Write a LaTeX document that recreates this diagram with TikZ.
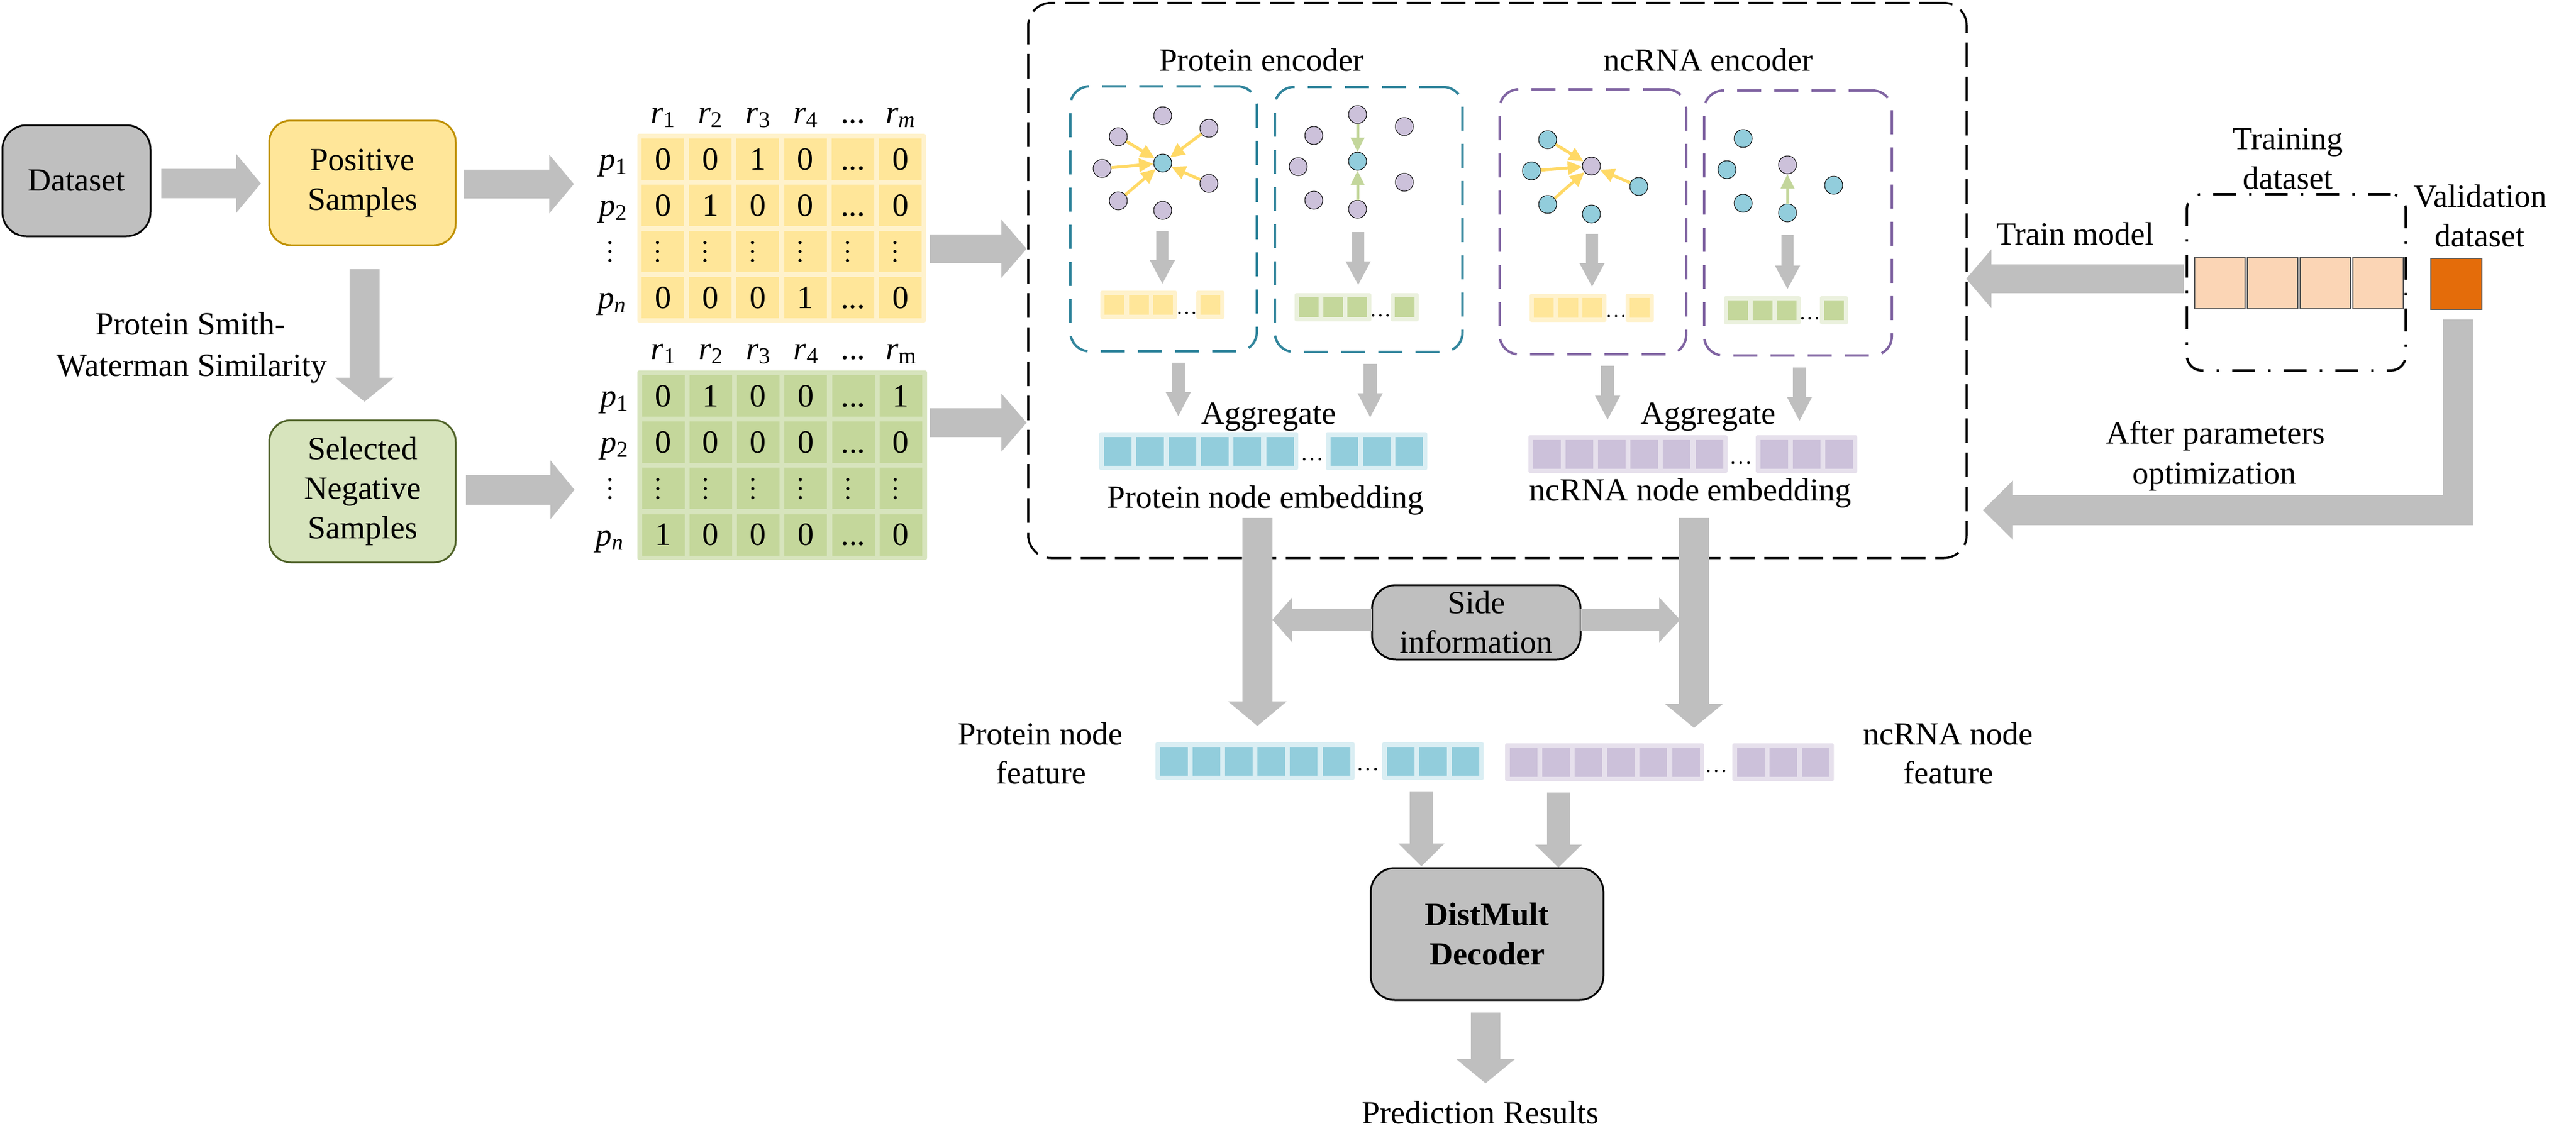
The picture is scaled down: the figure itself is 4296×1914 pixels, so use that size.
\documentclass[tikz,border=0pt]{standalone}
\usepackage{fontspec}
\setmainfont{Liberation Serif}
\usetikzlibrary{calc,arrows.meta}

\definecolor{agray}{HTML}{BFBFBF}
\definecolor{boxgray}{HTML}{BFBFBF}
\definecolor{posfill}{HTML}{FFE699}
\definecolor{posdraw}{HTML}{BF9000}
\definecolor{negfill}{HTML}{D7E4BD}
\definecolor{negdraw}{HTML}{4F6228}
\definecolor{ycell}{HTML}{FFE699}
\definecolor{yframe}{HTML}{FFF2CC}
\definecolor{gcell}{HTML}{C4D79B}
\definecolor{gframe}{HTML}{D7E4BD}
\definecolor{gframetwo}{HTML}{EBF1DE}
\definecolor{cteal}{HTML}{31859C}
\definecolor{cpurp}{HTML}{8064A2}
\definecolor{pnode}{HTML}{CCC1DA}
\definecolor{tnode}{HTML}{92CDDC}
\definecolor{yarrow}{HTML}{FFD966}
\definecolor{garrow}{HTML}{C3D69B}
\definecolor{bcell}{HTML}{92CDDC}
\definecolor{bframe}{HTML}{DAEEF3}
\definecolor{pcell}{HTML}{CCC1DA}
\definecolor{pframe}{HTML}{E6E0EC}
\definecolor{traincell}{HTML}{FBD5B5}
\definecolor{valcell}{HTML}{E46C0A}
\definecolor{celledge}{HTML}{595959}

% fat block arrow: start, end, shaft half width, head half width, head length
\newcommand{\fatarrow}[5]{%
  \coordinate (fah) at ($(#2)!#5!(#1)$);
  \fill[agray] ($(#1)!#3!90:(#2)$) -- ($(fah)!#3!90:(#2)$) -- ($(fah)!#4!90:(#2)$) -- (#2)
    -- ($(fah)!#4!-90:(#2)$) -- ($(fah)!#3!-90:(#2)$) -- ($(#1)!#3!-90:(#2)$) -- cycle;}

% strip of cells: left, top, n, cell w, cell h, gap, margin, cell colour, frame colour
\newcommand{\cellstrip}[9]{%
  \pgfmathsetmacro\cswid{2*#7+#3*#4+(#3-1)*#6}%
  \pgfmathsetmacro\cshei{2*#7+#5}%
  \fill[#9, rounded corners=3pt] (#1,#2) rectangle ++(\cswid,\cshei);
  \pgfmathtruncatemacro\cslast{#3-1}%
  \foreach \ci in {0,...,\cslast}{\fill[#8] ({#1+#7+\ci*(#4+#6)},{#2+#7}) rectangle ++(#4,#5);}
}

\newcommand{\threedots}[4]{% x of first dot, y, spacing, radius
  \foreach \di in {0,1,2}{\fill[black] ({#1+\di*#3},#2) circle (#4);}
}

\newcommand{\lbl}[2]{\textit{#1}\raisebox{-7pt}{\fontsize{38}{38}\selectfont #2}}

% matrix row: name prefix, first cell left, cell top, values col1-4, col6
\newcommand{\mrow}[8]{%
  \node[anchor=base] (#1a) at ({#2+35.5},{#3+52}) {#4};
  \node[anchor=base] (#1b) at ({#2+35.5+79.2},{#3+52}) {#5};
  \node[anchor=base] (#1c) at ({#2+35.5+2*79.2},{#3+52}) {#6};
  \node[anchor=base] (#1d) at ({#2+35.5+3*79.2},{#3+52}) {#7};
  \node[anchor=base] (#1e) at ({#2+35.5+4*79.2},{#3+52}) {...};
  \node[anchor=base] (#1f) at ({#2+35.5+5*79.2},{#3+52}) {#8};
}
\newcommand{\vdotsrow}[2]{% first cell left, centre y
  \foreach \j in {0,...,5}{\foreach \k in {-15,0,15}{\fill[black] ({#1+35.5-9+\j*79.2},{#2+\k}) circle (2.7pt);}}
}

\begin{document}
\begin{tikzpicture}[x=1pt,y=-1pt,
  every node/.style={font=\fontsize{54}{66}\selectfont, inner sep=0pt},
  lab/.style={anchor=base},
  pn/.style={circle, fill=pnode, draw=black, line width=1pt, minimum size=30pt, inner sep=0pt},
  tn/.style={circle, fill=tnode, draw=black, line width=1pt, minimum size=30pt, inner sep=0pt},
  yarr/.style={draw=yarrow, line width=5pt, -{Triangle[length=24pt,width=22pt]}},
  garr/.style={draw=garrow, line width=5pt, -{Triangle[length=24pt,width=22pt]}},
  encbox/.style={rectangle, anchor=north west, line width=4pt, dash pattern=on 40pt off 22pt, rounded corners=32pt, minimum height=442pt},
  solidbox/.style={rectangle, align=center, line width=3pt}
]
\useasboundingbox (0,0) rectangle (4296,1914);
\fill[white] (0,0) rectangle (4296,1914);

% ---------------- left part ----------------
\node[solidbox, draw=black, fill=boxgray, rounded corners=40pt, minimum width=247pt, minimum height=185pt] (dataset) at (127.5,301.5) {Dataset};
\node[solidbox, draw=posdraw, fill=posfill, rounded corners=36pt, minimum width=311pt, minimum height=208pt] (pos) at (604.5,305) {Positive\\Samples};
\node[solidbox, draw=negdraw, fill=negfill, rounded corners=36pt, minimum width=311pt, minimum height=237pt] (neg) at (604.5,819.5) {Selected\\Negative\\Samples};

\node[lab] (smitha) at (318,558) {Protein Smith-};
\node[lab] (smithb) at (320,627) {Waterman Similarity};

\coordinate (a1s) at (269,306); \coordinate (a1e) at (435,306);
\fatarrow{a1s}{a1e}{24.5pt}{49pt}{41pt}
\coordinate (a2s) at (774,307); \coordinate (a2e) at (957,307);
\fatarrow{a2s}{a2e}{24pt}{49pt}{41pt}
\coordinate (a3s) at (608,449); \coordinate (a3e) at (608,670);
\fatarrow{a3s}{a3e}{25pt}{49pt}{40pt}
\coordinate (a4s) at (777,817); \coordinate (a4e) at (958,817);
\fatarrow{a4s}{a4e}{25pt}{49pt}{40pt}

% ---------------- matrices ----------------
\fill[yframe, rounded corners=3pt] (1063,223) rectangle (1544,538);
\foreach \j in {0,...,5}{\foreach \i in {0,...,3}{\fill[ycell] ({1070+\j*79.2},{231+\i*77}) rectangle ++(71,69);}}
\node[lab] (yh1) at (1105.5,205) {\lbl{r}{1}};
\node[lab] (yh2) at (1184.7,205) {\lbl{r}{2}};
\node[lab] (yh3) at (1263.9,205) {\lbl{r}{3}};
\node[lab] (yh4) at (1343.1,205) {\lbl{r}{4}};
\node[lab] (yh5) at (1422.3,205) {...};
\node[lab] (yh6) at (1501.5,205) {\lbl{r}{\textit{m}}};
\node[lab] (yp1) at (1022,283) {\lbl{p}{1}};
\node[lab] (yp2) at (1022,360) {\lbl{p}{2}};
\node[lab] (ypn) at (1020,514) {\lbl{p}{\textit{n}}};
\foreach \k in {-15,0,15}{\fill[black] (1017,{419.5+\k}) circle (2.7pt);}
\mrow{ya}{1070}{231}{0}{0}{1}{0}{0}
\mrow{yb}{1070}{308}{0}{1}{0}{0}{0}
\vdotsrow{1070}{419.5}
\mrow{yd}{1070}{462}{0}{0}{0}{1}{0}

\fill[gframe, rounded corners=3pt] (1063,618) rectangle (1546,934);
\foreach \j in {0,...,5}{\foreach \i in {0,...,3}{\fill[gcell] ({1070.5+\j*79.3},{626+\i*77.2}) rectangle ++(71,69);}}
\node[lab] (gh1) at (1106,599) {\lbl{r}{1}};
\node[lab] (gh2) at (1185.3,599) {\lbl{r}{2}};
\node[lab] (gh3) at (1264.6,599) {\lbl{r}{3}};
\node[lab] (gh4) at (1343.9,599) {\lbl{r}{4}};
\node[lab] (gh5) at (1423.2,599) {...};
\node[lab] (gh6) at (1502.5,599) {\lbl{r}{m}};
\node[lab] (gp1) at (1024,678) {\lbl{p}{1}};
\node[lab] (gp2) at (1024,755) {\lbl{p}{2}};
\node[lab] (gpn) at (1016,910) {\lbl{p}{\textit{n}}};
\foreach \k in {-15,0,15}{\fill[black] (1017,{815+\k}) circle (2.7pt);}
\mrow{ga}{1070.5}{626}{0}{1}{0}{0}{1}
\mrow{gb}{1070.5}{703.2}{0}{0}{0}{0}{0}
\vdotsrow{1070.5}{815}
\mrow{gd}{1070.5}{857.6}{1}{0}{0}{0}{0}

\coordinate (a5s) at (1551,415); \coordinate (a5e) at (1712,415);
\fatarrow{a5s}{a5e}{24pt}{48.5pt}{42pt}
\coordinate (a6s) at (1551,705); \coordinate (a6e) at (1712,705);
\fatarrow{a6s}{a6e}{24pt}{48.5pt}{42pt}

% ---------------- encoder ----------------
\node[rectangle, anchor=north west, draw=black, line width=3.5pt, dash pattern=on 41pt off 16pt, rounded corners=38pt, minimum width=1565pt, minimum height=926pt] (outer) at (1713,3) {};

\node[lab] (penc) at (2104,118) {Protein encoder};
\node[lab] (nenc) at (2849,118) {ncRNA encoder};

\node[encbox, draw=cteal, minimum width=311pt] (plbox) at (1783,142) {};
\node[encbox, draw=cteal, minimum width=313pt] (prbox) at (2124,143) {};
\node[encbox, draw=cpurp, minimum width=311pt] (nlbox) at (2499,147) {};
\node[encbox, draw=cpurp, minimum width=313pt] (nrbox) at (2840,149) {};

% protein left graph
\node[tn] (plc) at (1939,272) {};
\node[pn] (pl1) at (1939,193) {};
\node[pn] (pl2) at (1865,228) {};
\node[pn] (pl3) at (2016,214) {};
\node[pn] (pl4) at (1838,281) {};
\node[pn] (pl5) at (2016,306) {};
\node[pn] (pl6) at (1865,335) {};
\node[pn] (pl7) at (1939,351) {};
\foreach \n in {pl2,pl3,pl4,pl5,pl6}{\draw[yarr] (\n) -- (plc);}

% protein right graph
\node[tn] (prc) at (2264,269) {};
\node[pn] (pr1) at (2264,191) {};
\node[pn] (pr2) at (2191,226) {};
\node[pn] (pr3) at (2342,211) {};
\node[pn] (pr4) at (2165,278) {};
\node[pn] (pr5) at (2342,304) {};
\node[pn] (pr6) at (2191,334) {};
\node[pn] (pr7) at (2264,349) {};
\draw[garr] (pr1) -- (prc);
\draw[garr] (pr7) -- (prc);

% ncRNA left graph
\node[pn] (nlc) at (2654,277) {};
\node[tn] (nl1) at (2581,233) {};
\node[tn] (nl2) at (2554,285) {};
\node[tn] (nl3) at (2581,341) {};
\node[tn] (nl4) at (2733,311) {};
\node[tn] (nl5) at (2654,357) {};
\foreach \n in {nl1,nl2,nl3,nl4}{\draw[yarr] (\n) -- (nlc);}

% ncRNA right graph
\node[pn] (nrc) at (2981,275) {};
\node[tn] (nr1) at (2907,231) {};
\node[tn] (nr2) at (2880,283) {};
\node[tn] (nr3) at (2907,339) {};
\node[tn] (nr4) at (3058,309) {};
\node[tn] (nr5) at (2981,355) {};
\draw[garr] (nr5) -- (nrc);

% small arrows inside encoder boxes
\coordinate (e1s) at (1938.5,385); \coordinate (e1e) at (1938.5,473);
\fatarrow{e1s}{e1e}{10.2pt}{21pt}{39pt}
\coordinate (e2s) at (2265,387); \coordinate (e2e) at (2265,475);
\fatarrow{e2s}{e2e}{10.2pt}{21pt}{39pt}
\coordinate (e3s) at (2655,390); \coordinate (e3e) at (2655,478);
\fatarrow{e3s}{e3e}{10.2pt}{21pt}{39pt}
\coordinate (e4s) at (2981,392); \coordinate (e4e) at (2981,482);
\fatarrow{e4s}{e4e}{10.2pt}{21pt}{39pt}

% small bars
\cellstrip{1835}{485}{3}{33}{33}{7.5}{7}{ycell}{yframe}
\cellstrip{1995}{485}{1}{33}{33}{7.5}{7}{ycell}{yframe}
\threedots{1967}{522}{12}{2pt}
\cellstrip{2159}{489}{3}{33}{33}{7.5}{7}{gcell}{gframetwo}
\cellstrip{2319}{489}{1}{33}{33}{7.5}{7}{gcell}{gframetwo}
\threedots{2290}{526}{12}{2pt}
\cellstrip{2551}{490}{3}{33}{33}{7.5}{7}{ycell}{yframe}
\cellstrip{2711}{490}{1}{33}{33}{7.5}{7}{ycell}{yframe}
\threedots{2683}{527}{12}{2pt}
\cellstrip{2875}{494}{3}{33}{33}{7.5}{7}{gcell}{gframetwo}
\cellstrip{3035}{494}{1}{33}{33}{7.5}{7}{gcell}{gframetwo}
\threedots{3006}{531}{12}{2pt}

% aggregate arrows
\coordinate (g1s) at (1965,605); \coordinate (g1e) at (1965,694);
\fatarrow{g1s}{g1e}{11pt}{21pt}{40pt}
\coordinate (g2s) at (2285,607); \coordinate (g2e) at (2285,696);
\fatarrow{g2s}{g2e}{11pt}{21pt}{40pt}
\coordinate (g3s) at (2681,610); \coordinate (g3e) at (2681,700);
\fatarrow{g3s}{g3e}{11pt}{21pt}{40pt}
\coordinate (g4s) at (3001,613); \coordinate (g4e) at (3001,702);
\fatarrow{g4s}{g4e}{11pt}{21pt}{40pt}

\node[lab] (agga) at (2116,707) {Aggregate};
\node[lab] (aggb) at (2849,707) {Aggregate};

% embeddings
\cellstrip{1833}{721}{6}{46}{48}{8.2}{7.5}{bcell}{bframe}
\cellstrip{2211}{721}{3}{46}{48}{8.2}{7.5}{bcell}{bframe}
\threedots{2175}{766}{13}{2.2pt}
\cellstrip{2549}{726}{6}{46}{48}{8.2}{7.5}{pcell}{pframe}
\cellstrip{2928}{726}{3}{46}{48}{8.2}{7.5}{pcell}{pframe}
\threedots{2890}{772}{13}{2.2pt}

\node[lab] (pemb) at (2110,847) {Protein node embedding};
\node[lab] (nemb) at (2819,835) {ncRNA node embedding};

% ---------------- right part ----------------
\node[lab] (trainm) at (3461,408) {Train model};
\node[lab] (trda) at (3815,249) {Training};
\node[lab] (trdb) at (3815,315) {dataset};
\node[lab] (vala) at (4136,345) {Validation};
\node[lab] (valb) at (4135,411) {dataset};
\node[lab] (aftera) at (3695,740) {After parameters};
\node[lab] (afterb) at (3693,807) {optimization};

\node[rectangle, anchor=north west, draw=black, line width=4pt, dash pattern=on 38pt off 22pt on 4pt off 22pt, rounded corners=25pt, minimum width=365pt, minimum height=294pt] (trbox) at (3645,322) {};
\foreach \tx [count=\ti] in {3660,3748,3836,3924}{\draw[fill=traincell, draw=celledge, line width=1.5pt] (\tx,429) rectangle ++(84,86);}
\node[rectangle, anchor=north west, fill=valcell, draw=celledge, line width=1.5pt, minimum width=85pt, minimum height=85pt] (valc) at (4053,430) {};

\coordinate (t1s) at (3642,465); \coordinate (t1e) at (3279,465);
\fatarrow{t1s}{t1e}{24pt}{49pt}{42pt}

\coordinate (lva) at (4074,533); \coordinate (lvb) at (4124,876);
\fill[agray] (lva) rectangle (lvb);
\coordinate (l1s) at (4124,851); \coordinate (l1e) at (3307,851);
\fatarrow{l1s}{l1e}{25pt}{49.5pt}{50pt}

% ---------------- bottom part ----------------
\coordinate (b1s) at (2097,864); \coordinate (b1e) at (2097,1211);
\fatarrow{b1s}{b1e}{25pt}{49pt}{41pt}
\coordinate (b2s) at (2825,864); \coordinate (b2e) at (2825,1214);
\fatarrow{b2s}{b2e}{25pt}{48.5pt}{40pt}

\node[solidbox, draw=black, fill=boxgray, rounded corners=40pt, minimum width=348pt, minimum height=124pt] (side) at (2462,1038) {Side\\information};
\coordinate (s1s) at (2288,1034); \coordinate (s1e) at (2122,1034);
\fatarrow{s1s}{s1e}{18.5pt}{37.5pt}{33pt}
\coordinate (s2s) at (2636,1034); \coordinate (s2e) at (2802,1034);
\fatarrow{s2s}{s2e}{18.5pt}{37.5pt}{35pt}

\node[lab] (pnfa) at (1735,1242) {Protein node};
\node[lab] (pnfb) at (1736,1307) {feature};
\node[lab] (nnfa) at (3249,1242) {ncRNA node};
\node[lab] (nnfb) at (3249,1307) {feature};

\cellstrip{1927}{1238}{6}{46}{48}{8.2}{7.5}{bcell}{bframe}
\cellstrip{2305}{1238}{3}{46}{48}{8.2}{7.5}{bcell}{bframe}
\threedots{2268}{1283}{13}{2.2pt}
\cellstrip{2510}{1240}{6}{46}{48}{8.2}{7.5}{pcell}{pframe}
\cellstrip{2889}{1240}{3}{46}{48}{8.2}{7.5}{pcell}{pframe}
\threedots{2849}{1286}{13}{2.2pt}

\coordinate (f1s) at (2370.5,1320); \coordinate (f1e) at (2370.5,1445);
\fatarrow{f1s}{f1e}{19.5pt}{38.5pt}{38pt}
\coordinate (f2s) at (2599,1322); \coordinate (f2e) at (2599,1447);
\fatarrow{f2s}{f2e}{19pt}{39pt}{38pt}

\node[solidbox, draw=black, fill=boxgray, rounded corners=40pt, minimum width=388pt, minimum height=220pt, font=\fontsize{54}{66}\selectfont\bfseries] (dist) at (2480,1558) {DistMult\\Decoder};

\coordinate (d1s) at (2477.5,1689); \coordinate (d1e) at (2477.5,1807);
\fatarrow{d1s}{d1e}{24.5pt}{48.5pt}{40pt}

\node[lab] (pred) at (2469,1874) {Prediction Results};
\end{tikzpicture}
\end{document}
